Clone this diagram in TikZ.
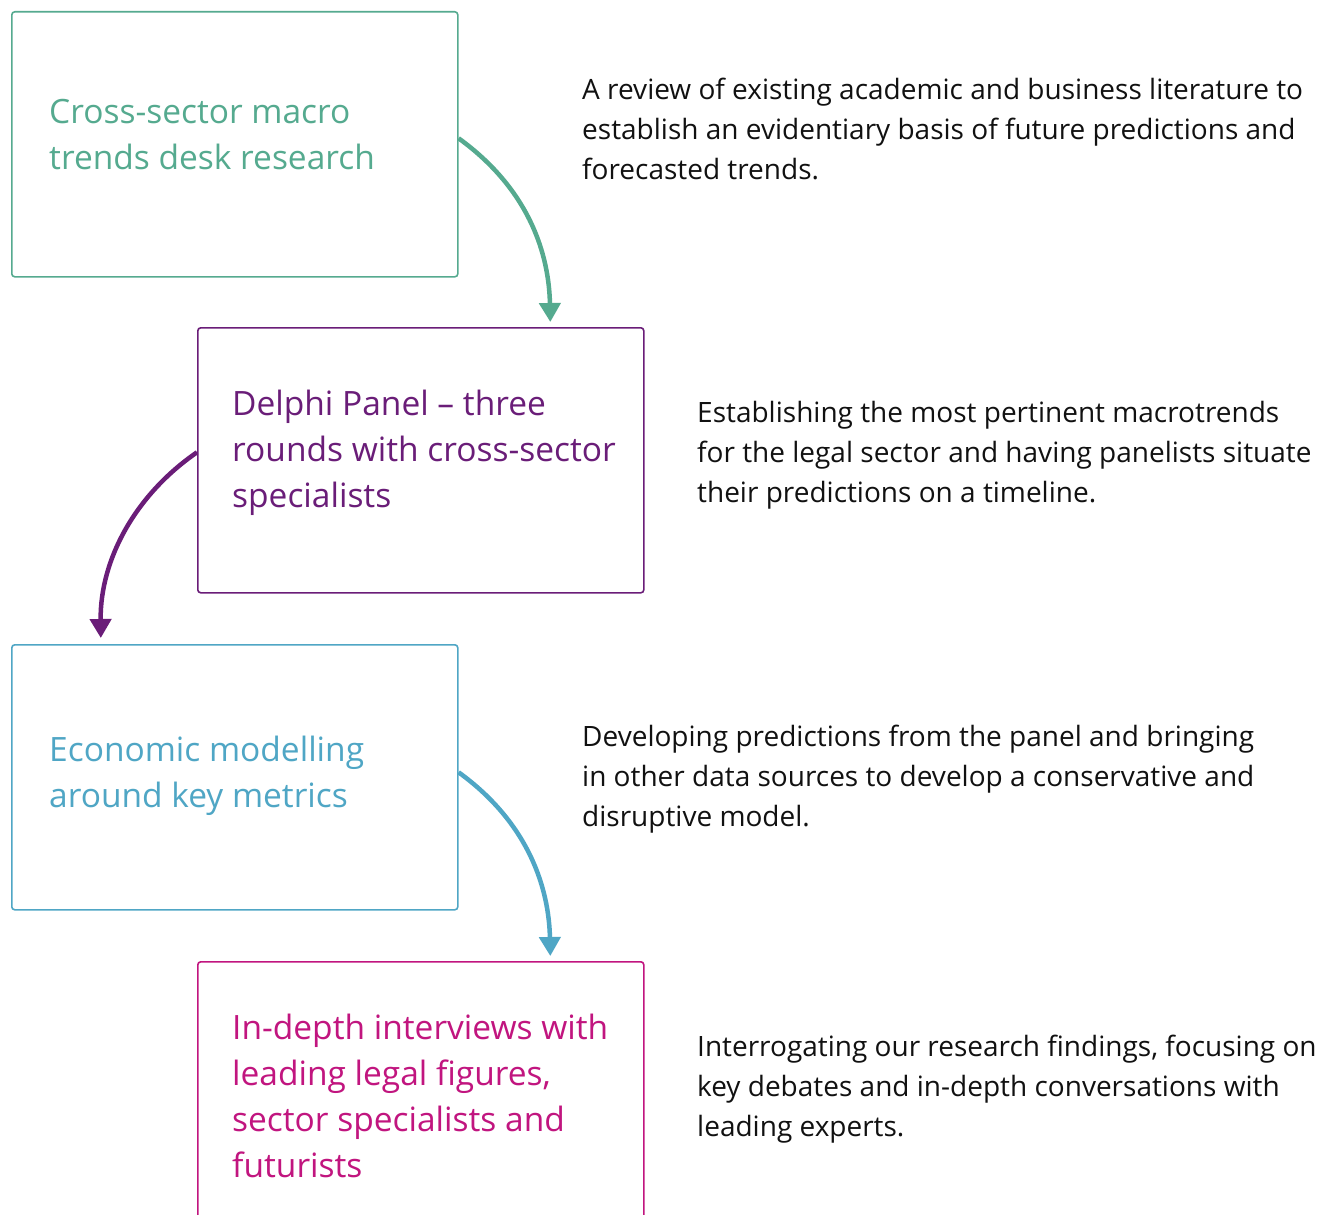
\documentclass[tikz,border=0pt]{standalone}
\usepackage{fontspec}
\setmainfont{Open Sans}
\usetikzlibrary{arrows.meta}
\definecolor{cteal}{HTML}{55AA8F}
\definecolor{cpurple}{HTML}{6A1D78}
\definecolor{cblue}{HTML}{4FA6C5}
\definecolor{cpink}{HTML}{C1157F}
\definecolor{ctext}{HTML}{111111}
\tikzset{
  stagebox/.style={draw=#1, line width=1.6pt, rounded corners=3pt, minimum width=446pt, minimum height=265pt, inner sep=0pt, anchor=north west},
  stagetext/.style={text=#1, anchor=north west, inner sep=0pt, align=left, font=\fontsize{33.5}{46}\selectfont},
  desctext/.style={text=ctext, anchor=north west, inner sep=0pt, align=left, font=\fontsize{28}{40}\selectfont},
  flow/.style={draw=#1, line width=4.5pt, -{Triangle[width=21pt,length=19pt]}},
}
\begin{document}
\begin{tikzpicture}[x=1pt,y=-1pt]
\clip (0,0) rectangle (1328,1215);
\fill[white] (0,0) rectangle (1328,1215);
\node[stagebox=cteal] (b1) at (11,11) {};
\node[stagebox=cpurple] (b2) at (197,327) {};
\node[stagebox=cblue] (b3) at (11,644) {};
\node[stagebox=cpink] (b4) at (197,961) {};
\node[stagetext=cteal] (t1) at (49,99) {Cross-sector macro\\trends desk research};
\node[stagetext=cpurple] (t2) at (232,390) {Delphi Panel – three\\rounds with cross-sector\\specialists};
\node[stagetext=cblue] (t3) at (49,736) {Economic modelling\\around key metrics};
\node[stagetext=cpink] (t4) at (232,1014) {In-depth interviews with\\leading legal figures,\\sector specialists and\\futurists};
\node[desctext] (d1) at (582,77.5) {A review of existing academic and business literature to\\establish an evidentiary basis of future predictions and\\forecasted trends.};
\node[desctext] (d2) at (697,401.5) {Establishing the most pertinent macrotrends\\for the legal sector and having panelists situate\\their predictions on a timeline.};
\node[desctext] (d3) at (582,724.5) {Developing predictions from the panel and bringing\\in other data sources to develop a conservative and\\disruptive model.};
\node[desctext] (d4) at (697,1034.5) {Interrogating our research findings, focusing on\\key debates and in-depth conversations with\\leading experts.};
\coordinate (e1) at ([xshift=129.5pt,yshift=5pt]b2.north);
\coordinate (e2) at ([xshift=-134pt,yshift=6pt]b3.north);
\coordinate (e3) at ([xshift=129.5pt,yshift=5pt]b4.north);
\draw[flow=cteal] ([yshift=6pt]b1.east) .. controls (530,190) and (549,255) .. (e1);
\draw[flow=cpurple] ([yshift=8pt]b2.west) .. controls (135,495) and (100,560) .. (e2);
\draw[flow=cblue] ([yshift=5pt]b3.east) .. controls (530,824) and (549,890) .. (e3);
\end{tikzpicture}
\end{document}
